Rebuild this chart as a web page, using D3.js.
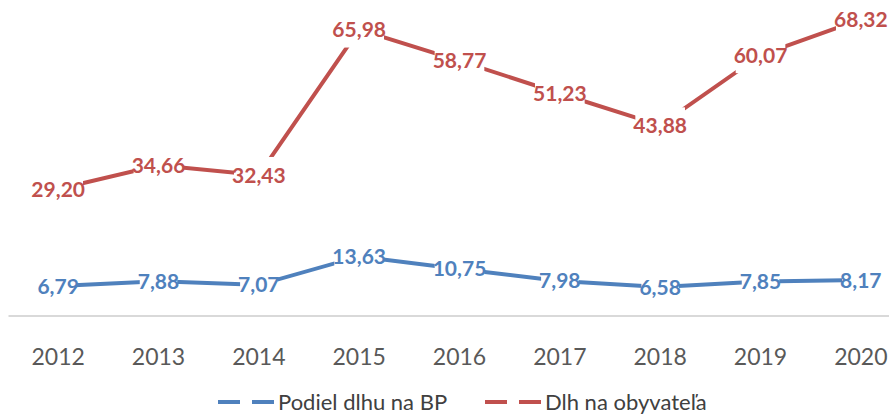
<!DOCTYPE html>
<html>
<head>
<meta charset="utf-8">
<script src="https://cdn.jsdelivr.net/npm/d3@7"></script>
<style>
  body { margin: 0; background: #fff; }
  svg { display: block; font-family: Lato, "Open Sans", sans-serif; }
</style>
</head>
<body>
<div id="chart"></div>
<script>
// Data
const years = ["2012", "2013", "2014", "2015", "2016", "2017", "2018", "2019", "2020"];
const podielDlhu = [6.79, 7.88, 7.07, 13.63, 10.75, 7.98, 6.58, 7.85, 8.17];
const dlhNaObyvatela = [29.20, 34.66, 32.43, 65.98, 58.77, 51.23, 43.88, 60.07, 68.32];
const seriesNames = ["Podiel dlhu na BP", "Dlh na obyvateľa"];
const seriesColors = ["#4f81bd", "#c0504d"];

const width = 889, height = 414;

const svg = d3.select("#chart")
    .append("svg")
    .attr("width", width)
    .attr("height", height);

// Skalen
const x = d3.scaleBand()
    .domain(years)
    .range([8, 911]);

const y = d3.scaleLinear()
    .domain([0, 72.8])
    .range([315.5, 0]);

// X-Achse
const xAxis = svg.append("g")
    .attr("transform", `translate(0,${y(0)})`)
    .call(d3.axisBottom(x).tickSize(0).tickPadding(33));

xAxis.select(".domain")
    .attr("stroke", "#d9d9d9")
    .attr("stroke-width", 2);

xAxis.selectAll("text")
    .attr("fill", "#595959")
    .style("font-size", "23px")
    .style("font-family", "Lato, 'Open Sans', sans-serif");

const cx = d => x(d) + x.bandwidth() / 2;

const series = [podielDlhu, dlhNaObyvatela];

// Linien
const line = d3.line()
    .x((d, i) => cx(years[i]))
    .y(d => y(d));

series.forEach((values, s) => {
    svg.append("path")
        .datum(values)
        .attr("fill", "none")
        .attr("stroke", seriesColors[s])
        .attr("stroke-width", 4)
        .attr("d", line);
});

// Datenbeschriftungen mit weißem Hintergrund
series.forEach((values, s) => {
    const g = svg.append("g");
    values.forEach((v, i) => {
        const label = g.append("g")
            .attr("transform", `translate(${cx(years[i])},${y(v)})`);
        const rect = label.append("rect").attr("fill", "#fff");
        const text = label.append("text")
            .attr("text-anchor", "middle")
            .attr("dy", "0.36em")
            .attr("fill", seriesColors[s])
            .style("font-size", "21px")
            .style("font-weight", "bold")
            .text(v.toFixed(2).replace(".", ","));
        const w = text.node().getComputedTextLength() - 4;
        rect.attr("x", -w / 2).attr("y", -18).attr("width", w).attr("height", 36);
    });
});

// Legende
const legendX = [218, 485];
seriesNames.forEach((name, s) => {
    const lg = svg.append("g")
        .attr("transform", `translate(${legendX[s]},402)`);
    lg.append("line")
        .attr("x1", 0).attr("x2", 56)
        .attr("stroke", seriesColors[s])
        .attr("stroke-width", 4)
        .attr("stroke-dasharray", "22,12");
    lg.append("text")
        .attr("x", 60)
        .attr("dy", "0.36em")
        .attr("fill", "#404040")
        .style("font-size", "22px")
        .text(name);
});
</script>
</body>
</html>
